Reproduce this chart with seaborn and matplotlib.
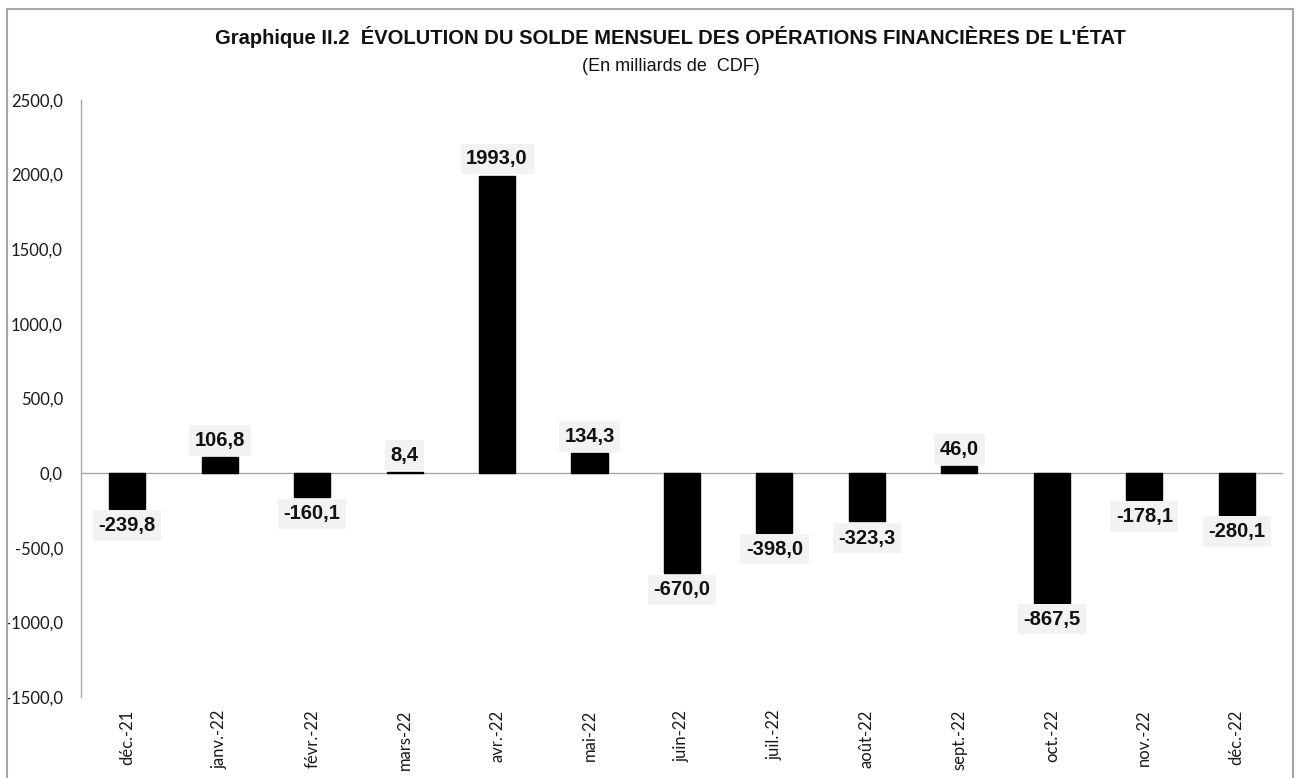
import matplotlib
matplotlib.use("Agg")
import matplotlib.pyplot as plt
import seaborn as sns
import pandas as pd
from matplotlib import font_manager
from matplotlib.patches import Rectangle

months = ["déc.-21", "janv.-22", "févr.-22", "mars-22", "avr.-22", "mai-22", "juin-22",
          "juil.-22", "août-22", "sept.-22", "oct.-22", "nov.-22", "déc.-22"]
values = [-239.8, 106.8, -160.1, 8.4, 1993.0, 134.3, -670.0, -398.0, -323.3, 46.0, -867.5, -178.1, -280.1]
yticks = [-1500, -1000, -500, 0, 500, 1000, 1500, 2000, 2500]

title = "Graphique II.2  ÉVOLUTION DU SOLDE MENSUEL DES OPÉRATIONS FINANCIÈRES DE L'ÉTAT"
subtitle = "(En milliards de  CDF)"

names = {f.name for f in font_manager.fontManager.ttflist}
narrow = "Liberation Sans Narrow" if "Liberation Sans Narrow" in names else "Liberation Sans"
tick_font = "Lato" if "Lato" in names else "DejaVu Sans"

sns.set_theme(style="white")
plt.rcParams["font.family"] = ["Liberation Sans", "DejaVu Sans"]

df = pd.DataFrame({"mois": months, "solde": values})

fig = plt.figure(figsize=(13, 7.78), dpi=100)
ax = fig.add_axes([0.0623, 0.1041, 0.9246, 0.7674])
sns.barplot(data=df, x="mois", y="solde", color="black", width=0.39, ax=ax,
            saturation=1, edgecolor="black")

ax.set_ylim(-1500, 2500)
ax.set_xlim(-0.5, len(months) - 0.5)
ax.set_yticks(yticks)
ax.set_yticklabels([f"{v:.1f}".replace(".", ",") for v in yticks],
                   fontsize=12, family=tick_font, color="#1a1a1a")
ax.set_xticks(range(len(months)))
ax.set_xticklabels(months, rotation=90, fontsize=12, family=tick_font, color="#1a1a1a")
ax.tick_params(axis="x", pad=9, length=0)
ax.tick_params(axis="y", pad=13, length=0)
ax.set_xlabel("")
ax.set_ylabel("")

for s in ["top", "right", "bottom"]:
    ax.spines[s].set_visible(False)
ax.spines["left"].set_color("#a6a6a6")
ax.spines["left"].set_linewidth(1)
ax.axhline(0, color="#a6a6a6", linewidth=1, zorder=0.5)

for i, v in enumerate(values):
    off = 12 if v >= 0 else -12
    ax.annotate(f"{v:.1f}".replace(".", ","), xy=(i, v), xytext=(0, off),
                textcoords="offset points", ha="center", va="center",
                fontsize=14.5, fontweight="bold", color="#111111",
                bbox=dict(boxstyle="square,pad=0.28", facecolor="#f2f2f2", edgecolor="none"))

fig.text(0.516, 0.952, title, ha="center", va="center", fontsize=14.5,
         fontweight="bold", family=narrow, color="#111111")
fig.text(0.516, 0.914, subtitle, ha="center", va="center", fontsize=13,
         family=narrow, color="#111111")

fig.patches.append(Rectangle((0.0055, -0.01), 0.989, 0.998, transform=fig.transFigure,
                             fill=False, edgecolor="#a6a6a6", linewidth=1.5))

fig.savefig("out.png", dpi=100)
